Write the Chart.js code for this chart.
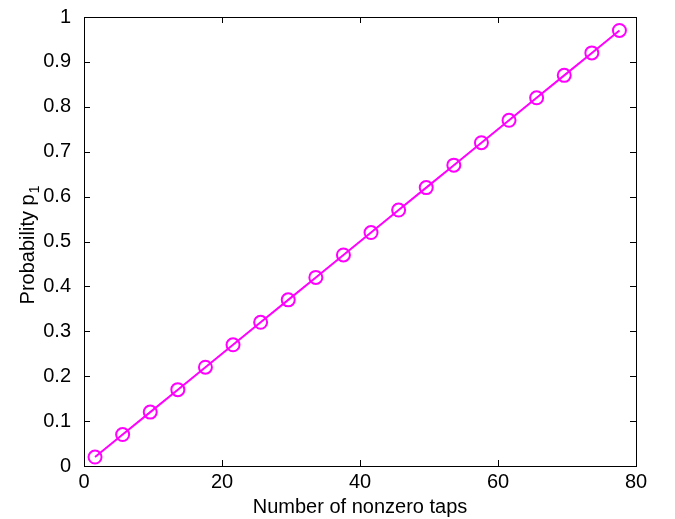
<!DOCTYPE html>
<html>
<head>
<meta charset="utf-8">
<script src="https://cdn.jsdelivr.net/npm/chart.js@4"></script>
<style>
  html, body { margin: 0; padding: 0; background: #fff; }
  #wrap { width: 675px; height: 519px; position: relative; }
</style>
</head>
<body>
<div id="wrap"><canvas id="chart" width="675" height="519"></canvas></div>
<script>
// ---------- data ----------
const TAPS  = [1.6, 5.6, 9.6, 13.6, 17.6, 21.6, 25.6, 29.6, 33.6, 37.6,
               41.6, 45.6, 49.6, 53.6, 57.6, 61.6, 65.6, 69.6, 73.6, 77.6];
const PROB  = [0.02, 0.07, 0.12, 0.17, 0.22, 0.27, 0.32, 0.37, 0.42, 0.47,
               0.52, 0.57, 0.62, 0.67, 0.72, 0.77, 0.82, 0.87, 0.92, 0.97];
const X_TICKS = [0, 20, 40, 60, 80];
const Y_TICKS = [0, 0.1, 0.2, 0.3, 0.4, 0.5, 0.6, 0.7, 0.8, 0.9, 1];

const FONT = 'Arial, "Liberation Sans", sans-serif';
const FONT_SIZE = 20;
const MAGENTA = '#ff00ff';

// box + inward tick marks, matlab style
const boxTicks = {
  id: 'boxTicks',
  afterDraw(chart) {
    const { ctx, chartArea: a, scales: { x, y } } = chart;
    const len = 6;
    ctx.save();
    ctx.strokeStyle = '#000';
    ctx.lineWidth = 1;
    ctx.beginPath();
    for (const v of X_TICKS) {
      const px = Math.round(x.getPixelForValue(v)) + 0.5;
      ctx.moveTo(px, a.bottom); ctx.lineTo(px, a.bottom - len);
      ctx.moveTo(px, a.top);    ctx.lineTo(px, a.top + len);
    }
    for (const v of Y_TICKS) {
      const py = Math.round(y.getPixelForValue(v)) + 0.5;
      ctx.moveTo(a.left, py);  ctx.lineTo(a.left + len, py);
      ctx.moveTo(a.right, py); ctx.lineTo(a.right - len, py);
    }
    ctx.stroke();
    ctx.strokeRect(Math.round(a.left) + 0.5, Math.round(a.top) + 0.5,
                   Math.round(a.right - a.left), Math.round(a.bottom - a.top));

    // y title with a real subscript
    const main = 'Probability p', sub = '1';
    ctx.font = `${FONT_SIZE}px ${FONT}`;
    const w1 = ctx.measureText(main).width;
    ctx.font = `${FONT_SIZE - 6}px ${FONT}`;
    const w2 = ctx.measureText(sub).width;
    ctx.translate(34, (a.top + a.bottom) / 2 + 4);
    ctx.rotate(-Math.PI / 2);
    ctx.fillStyle = '#000';
    ctx.textBaseline = 'alphabetic';
    ctx.textAlign = 'left';
    const start = -(w1 + w2) / 2;
    ctx.font = `${FONT_SIZE}px ${FONT}`;
    ctx.fillText(main, start, 0);
    ctx.font = `${FONT_SIZE - 6}px ${FONT}`;
    ctx.fillText(sub, start + w1 + 1, 5);
    ctx.restore();
  }
};

new Chart(document.getElementById('chart').getContext('2d'), {
  type: 'scatter',
  data: {
    datasets: [{
      data: TAPS.map((t, i) => ({ x: t, y: PROB[i] })),
      showLine: true,
      borderColor: MAGENTA,
      borderWidth: 2,
      pointRadius: 6.5,
      pointBorderWidth: 2,
      pointBorderColor: MAGENTA,
      pointBackgroundColor: 'rgba(0,0,0,0)',
    }]
  },
  options: {
    responsive: false,
    animation: false,
    layout: { padding: { top: 12, right: 39, bottom: 0, left: 0 } },
    plugins: { legend: { display: false }, tooltip: { enabled: false } },
    scales: {
      x: {
        type: 'linear', min: 0, max: 80,
        afterBuildTicks: (s) => { s.ticks = X_TICKS.map(v => ({ value: v })); },
        afterFit: (s) => { s.height = 53; },
        grid: { display: false },
        border: { display: false },
        ticks: { color: '#000', font: { family: FONT, size: FONT_SIZE }, padding: -4, maxRotation: 0 },
        title: { display: true, text: 'Number of nonzero taps', color: '#000',
                 font: { family: FONT, size: FONT_SIZE }, padding: { top: 2, bottom: 0 } }
      },
      y: {
        type: 'linear', min: 0, max: 1,
        afterBuildTicks: (s) => { s.ticks = Y_TICKS.map(v => ({ value: v })); },
        afterFit: (s) => { s.width = 84; },
        grid: { display: false },
        border: { display: false },
        ticks: { color: '#000', font: { family: FONT, size: FONT_SIZE }, padding: 5,
                 callback: (v) => String(+v.toFixed(1)) },
        title: { display: false }
      }
    }
  },
  plugins: [boxTicks]
});
</script>
</body>
</html>
